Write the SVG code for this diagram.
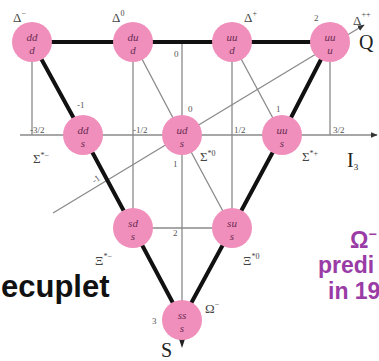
<svg xmlns="http://www.w3.org/2000/svg" width="379" height="361" viewBox="0 0 379 361">
<defs>
<marker id="arr" viewBox="0 0 10 10" refX="9" refY="5" markerWidth="7" markerHeight="7" orient="auto" markerUnits="userSpaceOnUse">
<path d="M0,1 L10,5 L0,9 z" fill="#333"/>
</marker>
<style>
.thin{stroke:#8a8a8a;stroke-width:1.3;fill:none}
.thick{stroke:#111;stroke-width:4;fill:none;stroke-linecap:round}
.node circle{fill:#f08fbb}
.q{font-family:"Liberation Serif",serif;font-style:italic;font-size:11px;fill:#6b2b55;text-anchor:middle}
.lab{font-family:"Liberation Serif",serif;font-size:9px;fill:#555}
.gk{font-family:"Liberation Serif",serif;font-size:13px;fill:#444}
.sup{font-size:8px}
.big{font-family:"Liberation Serif",serif;font-size:20px;fill:#222}
.pur{font-family:"Liberation Sans",Arial,sans-serif;font-weight:bold;font-size:23px;fill:#9a3ca6}
</style>
</defs>
<rect width="379" height="361" fill="#fff"/>
<g id="connectors">
<line class="thin" x1="32" y1="42" x2="32" y2="135"/>
<line class="thin" x1="133" y1="42" x2="133" y2="228"/>
<line class="thin" x1="182" y1="42" x2="182" y2="320"/>
<line class="thin" x1="232" y1="42" x2="232" y2="228"/>
<line class="thin" x1="330" y1="42" x2="330" y2="135"/>
<line class="thin" x1="20" y1="135" x2="377" y2="135" marker-end="url(#arr)"/>
<line class="thin" x1="133" y1="228" x2="232" y2="228"/>
<polyline class="thin" points="133,42 182,135 232,228"/>
<line class="thin" x1="232" y1="42" x2="282" y2="135"/>
<line class="thin" x1="53" y1="213" x2="364" y2="25" marker-end="url(#arr)"/>
<line class="thick" x1="32" y1="42" x2="330" y2="42"/>
<polyline class="thick" points="32,42 83,135 133,228 182,320 232,228 282,135 330,42"/>
<line class="thin" x1="182" y1="320" x2="182" y2="345"/>
<path d="M179,339 L185,339 L182,348 z" fill="#222"/>
</g>
<g id="n-dmm" class="node"><circle cx="32" cy="42" r="20"/><text class="q" x="32" y="41">dd</text><text class="q" x="32" y="54">d</text></g>
<g id="n-d0" class="node"><circle cx="133" cy="42" r="20"/><text class="q" x="133" y="41">du</text><text class="q" x="133" y="54">d</text></g>
<g id="n-dp" class="node"><circle cx="232" cy="42" r="20"/><text class="q" x="232" y="41">uu</text><text class="q" x="232" y="54">d</text></g>
<g id="n-dpp" class="node"><circle cx="330" cy="42" r="20"/><text class="q" x="330" y="41">uu</text><text class="q" x="330" y="54">u</text></g>
<g id="n-sm" class="node"><circle cx="83" cy="135" r="20"/><text class="q" x="83" y="134">dd</text><text class="q" x="83" y="147">s</text></g>
<g id="n-s0" class="node"><circle cx="182" cy="135" r="20"/><text class="q" x="182" y="134">ud</text><text class="q" x="182" y="147">s</text></g>
<g id="n-sp" class="node"><circle cx="282" cy="135" r="20"/><text class="q" x="282" y="134">uu</text><text class="q" x="282" y="147">s</text></g>
<g id="n-xm" class="node"><circle cx="133" cy="228" r="20"/><text class="q" x="133" y="227">sd</text><text class="q" x="133" y="240">s</text></g>
<g id="n-x0" class="node"><circle cx="232" cy="228" r="20"/><text class="q" x="232" y="227">su</text><text class="q" x="232" y="240">s</text></g>
<g id="n-om" class="node"><circle cx="182" cy="320" r="20"/><text class="q" x="182" y="319">ss</text><text class="q" x="182" y="332">s</text></g>
<g id="labels">
<text class="lab" x="30" y="133">-3/2</text>
<text class="lab" x="133" y="133">-1/2</text>
<text class="lab" x="234" y="133">1/2</text>
<text class="lab" x="333" y="133">3/2</text>
<text class="lab" x="174" y="57">0</text>
<text class="lab" x="188" y="112">0</text>
<text class="lab" x="77" y="108">-1</text>
<text class="lab" x="276" y="112">1</text>
<text class="lab" x="314" y="21">2</text>
<text class="lab" x="173" y="167">1</text>
<text class="lab" x="173" y="236">2</text>
<text class="lab" x="152" y="324">3</text>
<text class="lab" x="92" y="182" transform="rotate(-35 96 179)">-1</text>
<text class="gk" x="13" y="22">Δ<tspan class="sup" dy="-6">−</tspan></text>
<text class="gk" x="112" y="22">Δ<tspan class="sup" dy="-6">0</tspan></text>
<text class="gk" x="244" y="22">Δ<tspan class="sup" dy="-6">+</tspan></text>
<text class="gk" x="353" y="25">Δ<tspan class="sup" dy="-8">++</tspan></text>
<text class="gk" x="33" y="163">Σ<tspan class="sup" dy="-5">*−</tspan></text>
<text class="gk" x="200" y="161">Σ<tspan class="sup" dy="-5">*0</tspan></text>
<text class="gk" x="302" y="161">Σ<tspan class="sup" dy="-5">*+</tspan></text>
<text class="gk" x="95" y="265">Ξ<tspan class="sup" dy="-6">*−</tspan></text>
<text class="gk" x="243" y="265">Ξ<tspan class="sup" dy="-6">*0</tspan></text>
<text class="gk" x="205" y="313">Ω<tspan class="sup" dy="-6">−</tspan></text>
<text class="big" x="347" y="167">I<tspan font-size="9" dy="3">3</tspan></text>
<text class="big" x="359" y="49">Q</text>
<text class="big" x="161" y="357">S</text>
<text x="1" y="297" font-family="'Liberation Sans',Arial,sans-serif" font-weight="bold" font-size="31" fill="#111">ecuplet</text>
<text class="pur" x="350" y="248">Ω<tspan font-size="14" dy="-9">−</tspan></text>
<text class="pur" x="318" y="273">predi</text>
<text class="pur" x="328" y="299">in 19</text>
</g>
</svg>
